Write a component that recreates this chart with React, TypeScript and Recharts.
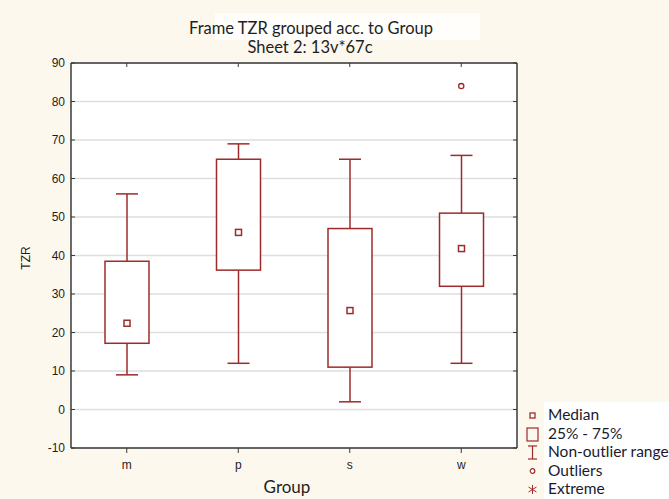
import React from 'react';
import { ComposedChart, Bar, Line, XAxis, YAxis, CartesianGrid } from 'recharts';

// ---------------------------------------------------------------------------
// Data
// ---------------------------------------------------------------------------

const groups = ['m', 'p', 's', 'w'];
const medians = [22.4, 46, 25.7, 41.8];
const q1 = [17.2, 36.2, 11, 32];
const q3 = [38.5, 65, 47, 51];
const whiskerLow = [9, 12, 2, 12];
const whiskerHigh = [56, 69, 65, 66];
const outliers: Array<number | null> = [null, null, null, 84];
const yTicks = [-10, 0, 10, 20, 30, 40, 50, 60, 70, 80, 90];

const rows = groups.map((g, i) => ({
  group: g,
  min: whiskerLow[i],
  max: whiskerHigh[i],
  q1: q1[i],
  q3: q3[i],
  median: medians[i],
  outlier: outliers[i],
}));

const BOX = '#9e2b2b';
const FRAME = '#3a3a3a';
const TEXT = '#1e1e1e';
const BG = '#fdf8ee';
const SANS = 'Liberation Sans, Arial, sans-serif';
const TITLE_FONT = 'Lato, "Open Sans", sans-serif';

// ---------------------------------------------------------------------------
// Shapes
// ---------------------------------------------------------------------------

const BoxShape = (props: any) => {
  const { x, y, width, height, payload } = props;
  const top = Math.min(y, y + height);
  const h = Math.abs(height);
  const k = h / (payload.max - payload.min);
  const py = (v: number) => top + (payload.max - v) * k;
  const cx = x + width / 2;
  const cap = width / 4;
  return (
    <g stroke={BOX} strokeWidth={1.5} fill="none">
      <line x1={cx} x2={cx} y1={py(payload.max)} y2={py(payload.q3)} />
      <line x1={cx} x2={cx} y1={py(payload.q1)} y2={py(payload.min)} />
      <line x1={cx - cap} x2={cx + cap} y1={py(payload.max)} y2={py(payload.max)} />
      <line x1={cx - cap} x2={cx + cap} y1={py(payload.min)} y2={py(payload.min)} />
      <rect x={x} y={py(payload.q3)} width={width} height={py(payload.q1) - py(payload.q3)} fill="#fff" />
      <rect x={cx - 3} y={py(payload.median) - 3} width={6} height={6} fill="#fff" />
    </g>
  );
};

const OutlierDot = (props: any) => {
  const { cx, cy, value } = props;
  if (value == null || cy == null) return <g key={props.index} />;
  return <circle key={props.index} cx={cx} cy={cy} r={2.6} stroke={BOX} strokeWidth={1.3} fill="#fff" />;
};

const LeftTick = ({ x, y, payload }: any) => (
  <g>
    <line x1={x} x2={x + 4} y1={y} y2={y} stroke={FRAME} />
    <text x={x - 6} y={y} dy={4} textAnchor="end" fontSize={12} fill={TEXT} fontFamily={SANS}>
      {payload.value}
    </text>
  </g>
);

const RightTick = ({ x, y }: any) => <line x1={x - 4} x2={x} y1={y} y2={y} stroke={FRAME} />;

const TopTick = ({ x, y }: any) => <line x1={x} x2={x} y1={y} y2={y + 4} stroke={FRAME} />;

const BottomTick = ({ x, y, payload }: any) => (
  <g>
    <line x1={x} x2={x} y1={y} y2={y + 5} stroke={FRAME} />
    <text x={x} y={y + 21} textAnchor="middle" fontSize={12} fill={TEXT} fontFamily={SANS}>
      {payload.value}
    </text>
  </g>
);

// ---------------------------------------------------------------------------
// Legend
// ---------------------------------------------------------------------------

const legendItems = ['Median', '25% - 75%', 'Non-outlier range', 'Outliers', 'Extreme'];
const legendY = [408, 427, 445, 464, 482];

const LegendIcon = ({ i }: { i: number }) => {
  if (i === 0) return <rect x={4} y={5} width={5} height={5} stroke={BOX} strokeWidth={1.3} fill="#fff" />;
  if (i === 1) return <rect x={1} y={1} width={11} height={13} stroke={BOX} strokeWidth={1.2} fill="none" />;
  if (i === 2)
    return (
      <g stroke={BOX} strokeWidth={1.2}>
        <line x1={2} x2={11} y1={1} y2={1} />
        <line x1={6.5} x2={6.5} y1={1} y2={14} />
        <line x1={2} x2={11} y1={14} y2={14} />
      </g>
    );
  if (i === 3) return <circle cx={6.5} cy={7} r={2.3} stroke={BOX} strokeWidth={1.2} fill="#fff" />;
  return (
    <g stroke={BOX} strokeWidth={1}>
      <line x1={6.5} x2={6.5} y1={3} y2={12} />
      <line x1={2.5} x2={10.5} y1={5} y2={10} />
      <line x1={2.5} x2={10.5} y1={10} y2={5} />
    </g>
  );
};

// ---------------------------------------------------------------------------
// Component
// ---------------------------------------------------------------------------

const App: React.FC = () => (
  <div style={{ position: 'relative', width: 669, height: 499, background: BG }}>
    <style>{`body{margin:0;background:${BG};}`}</style>
    <svg width={669} height={499} style={{ position: 'absolute', left: 0, top: 0 }}>
      <rect x={215} y={13} width={265} height={27} fill="#fffefa" />
    </svg>
    <ComposedChart
      width={669}
      height={499}
      data={rows}
      margin={{ top: 62, right: 150, bottom: 21, left: 0 }}
      style={{ position: 'absolute', left: 0, top: 0 }}
    >
      <CartesianGrid vertical={false} stroke="#dedede" strokeWidth={1.5} fill="#fff" yAxisId="left" />
      <XAxis
        dataKey="group"
        xAxisId="bottom"
        height={30}
        axisLine={{ stroke: FRAME, strokeWidth: 1.5 }}
        tickLine={false}
        tickSize={0}
        tickMargin={0}
        tick={<BottomTick />}
        interval={0}
      />
      <XAxis
        dataKey="group"
        xAxisId="top"
        orientation="top"
        height={1}
        axisLine={{ stroke: FRAME, strokeWidth: 1.5 }}
        tickLine={false}
        tickSize={0}
        tickMargin={0}
        tick={<TopTick />}
        interval={0}
      />
      <YAxis
        yAxisId="left"
        width={71}
        domain={[-10, 90]}
        ticks={yTicks}
        type="number"
        allowDataOverflow
        axisLine={{ stroke: FRAME, strokeWidth: 1.5 }}
        tickLine={false}
        tickSize={0}
        tickMargin={0}
        tick={<LeftTick />}
        interval={0}
      />
      <YAxis
        yAxisId="right"
        orientation="right"
        width={2}
        domain={[-10, 90]}
        ticks={yTicks}
        type="number"
        allowDataOverflow
        axisLine={{ stroke: FRAME, strokeWidth: 1.5 }}
        tickLine={false}
        tickSize={0}
        tickMargin={0}
        tick={<RightTick />}
        interval={0}
      />
      <Bar
        xAxisId="bottom"
        yAxisId="left"
        dataKey={(d: any) => [d.min, d.max]}
        barSize={44}
        shape={<BoxShape />}
        isAnimationActive={false}
      />
      <Line
        xAxisId="bottom"
        yAxisId="left"
        dataKey="outlier"
        stroke="none"
        dot={<OutlierDot />}
        activeDot={false}
        isAnimationActive={false}
      />
    </ComposedChart>
    <svg width={669} height={499} style={{ position: 'absolute', left: 0, top: 0, pointerEvents: 'none' }}>
      <text x={311} y={34} textAnchor="middle" fontSize={16.5} fill={TEXT} fontFamily={TITLE_FONT}>
        Frame TZR grouped acc. to Group
      </text>
      <text x={310} y={53} textAnchor="middle" fontSize={16.5} fill={TEXT} fontFamily={TITLE_FONT}>
        Sheet 2: 13v*67c
      </text>
      <text x={30} y={258} transform="rotate(-90 30 258)" textAnchor="middle" fontSize={12} fill={TEXT} fontFamily={SANS}>
        TZR
      </text>
      <text x={287} y={493} textAnchor="middle" fontSize={17} fill={TEXT} fontFamily={TITLE_FONT}>
        Group
      </text>
      <rect x={544} y={402} width={125} height={97} fill="#fff" />
      {legendItems.map((label, i) => (
        <g key={label} transform={`translate(526 ${legendY[i]})`}>
          <LegendIcon i={i} />
          <text x={22} y={12} fontSize={15.5} fill="#1a1a2e" fontFamily={TITLE_FONT}>
            {label}
          </text>
        </g>
      ))}
    </svg>
  </div>
);

export default App;
